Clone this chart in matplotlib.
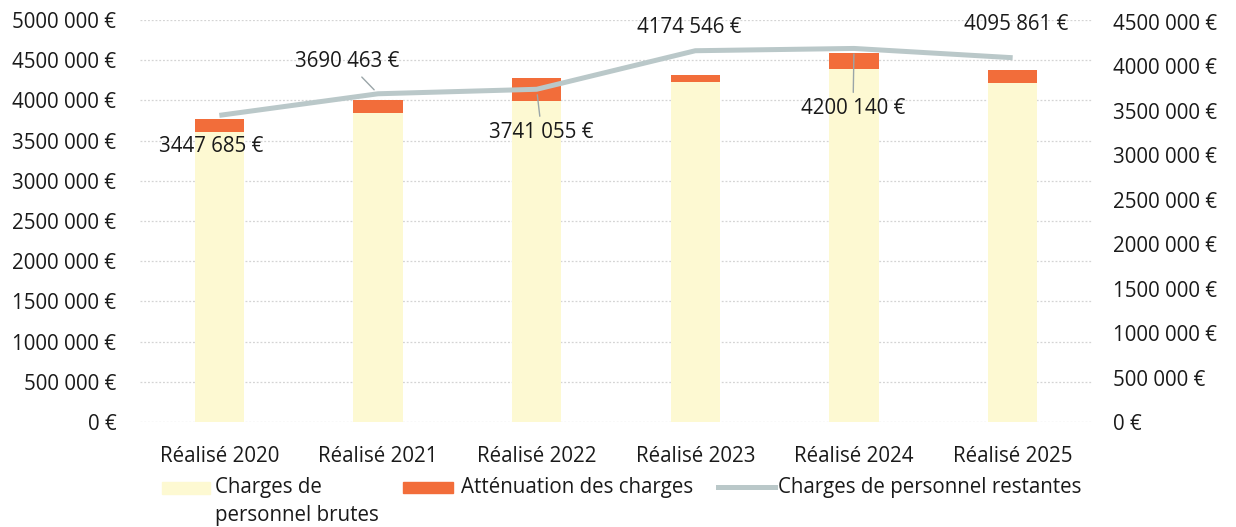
import numpy as np
import matplotlib as mpl; mpl.use('Agg')
import matplotlib.pyplot as plt
from matplotlib.patches import Rectangle
from matplotlib.lines import Line2D
from matplotlib.ticker import FuncFormatter, MultipleLocator

FS = 14.8
mpl.rcParams.update({'font.family': ['Open Sans', 'DejaVu Sans'], 'font.size': FS})

# data
categories = ['Réalisé 2020', 'Réalisé 2021', 'Réalisé 2022', 'Réalisé 2023', 'Réalisé 2024', 'Réalisé 2025']
brutes = [3603000, 3840000, 3996000, 4233000, 4391000, 4220000]
attenuation = [162000, 165000, 279000, 83000, 199000, 158000]
restantes = [3447685, 3690463, 3741055, 4174546, 4200140, 4095861]
label_texts = ['3447 685 €', '3690 463 €', '3741 055 €', '4174 546 €', '4200 140 €', '4095 861 €']

YEL = '#fdf9d2'; ORG = '#f26d3a'; LINE = '#bac8c9'; TXT = '#1a1a1a'
W, H = 1236, 527

def euro(v, pos=None):
    s = f'{int(round(v)):,}'.replace(',', ' ')
    # Excel style: thousands grouped only after the first group of 4 digits
    if v >= 1_000_000:
        s = s.replace(' ', '', 1)
    return f'{s} €'

fig = plt.figure(figsize=(W / 100, H / 100), dpi=100)
ax = fig.add_axes([140 / W, 1 - 422 / H, (1092 - 140) / W, (422 - 20) / H])
x = np.arange(len(categories))
ax.bar(x, brutes, width=0.31, color=YEL, zorder=2)
ax.bar(x, attenuation, width=0.31, bottom=brutes, color=ORG, zorder=2)
ax.set_xlim(-0.5, len(categories) - 0.5)
ax.set_ylim(0, 5_000_000)
ax.yaxis.set_major_locator(MultipleLocator(500_000))
ax.yaxis.set_major_formatter(FuncFormatter(euro))
ax.grid(axis='y', color='#d4d4d4', ls=(0, (1.5, 1.5)), lw=0.9, zorder=0)
ax.set_axisbelow(True)
ax.set_xticks(x)
ax.set_xticklabels(categories, color=TXT)
ax.tick_params(axis='x', length=0, pad=17)
ax.tick_params(axis='y', length=0, pad=17, colors=TXT)
for s in ax.spines.values():
    s.set_visible(False)

ax2 = ax.twinx()
ax2.plot(x, restantes, color=LINE, lw=3.6, solid_capstyle='butt', zorder=3)
ax2.set_ylim(0, 4_520_000)
ax2.yaxis.set_major_formatter(FuncFormatter(euro))
ax2.set_yticks(np.arange(0, 4_500_001, 500_000))
ax2.tick_params(axis='y', length=0, pad=15, colors=TXT)
for s in ax2.spines.values():
    s.set_visible(False)

# data labels (offsets in pixels) with leader lines where Excel drew them
offsets = [(-8, -31), (-31, 32), (5, -43), (-6, 23), (-1, -60), (4, 33)]
leaders = [False, True, True, False, True, False]
for i in range(len(x)):
    kw = {}
    if leaders[i]:
        kw['arrowprops'] = dict(arrowstyle='-', color='#9aa5a8', lw=1.0, shrinkA=2, shrinkB=4)
    ax2.annotate(label_texts[i], xy=(x[i], restantes[i]), xytext=offsets[i], textcoords='offset pixels',
                 ha='center', va='center', color=TXT, fontsize=FS, zorder=4, **kw)

# legend drawn by hand to keep Excel's wrapped first entry
def fx(px): return px / W
def fy(py): return 1 - py / H
fig.add_artist(Rectangle((fx(162), fy(494)), fx(48), 12 / H, transform=fig.transFigure, color=YEL))
fig.text(fx(215), fy(488), 'Charges de', va='center', ha='left', color=TXT, fontsize=FS)
fig.text(fx(215), fy(515), 'personnel brutes', va='center', ha='left', color=TXT, fontsize=FS)
fig.add_artist(Rectangle((fx(403), fy(493)), fx(50), 11 / H, transform=fig.transFigure, color=ORG))
fig.text(fx(461), fy(488), 'Atténuation des charges', va='center', ha='left', color=TXT, fontsize=FS)
fig.add_artist(Line2D([fx(718), fx(775)], [fy(487), fy(487)], transform=fig.transFigure, color=LINE, lw=3.6))
fig.text(fx(778), fy(488), 'Charges de personnel restantes', va='center', ha='left', color=TXT, fontsize=FS)

fig.savefig('out.png', dpi=100)
